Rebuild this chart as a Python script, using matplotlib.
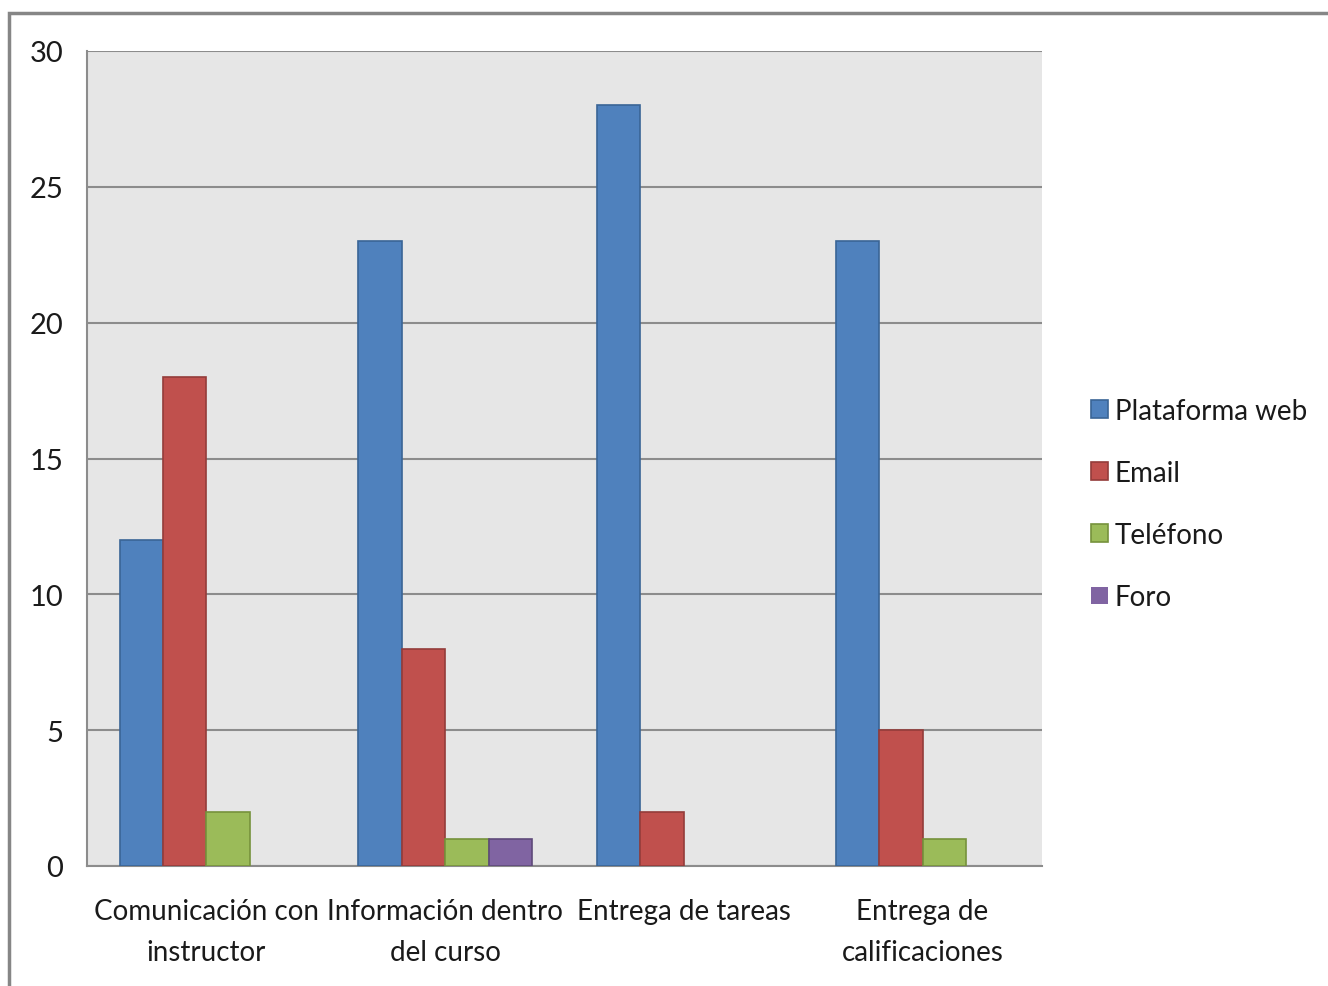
import matplotlib.pyplot as plt
import numpy as np
from matplotlib.patches import Rectangle

categories = ['Comunicación con\ninstructor', 'Información dentro\ndel curso',
              'Entrega de tareas', 'Entrega de\ncalificaciones']
series = ['Plataforma web', 'Email', 'Teléfono', 'Foro']
plataforma_web = [12, 23, 28, 23]
email = [18, 8, 2, 5]
telefono = [2, 1, 0, 1]
foro = [0, 1, 0, 0]

values = [plataforma_web, email, telefono, foro]
colors = ['#4F81BD', '#C0504D', '#9BBB59', '#8064A2']
edges = ['#3A6596', '#943C3A', '#76923C', '#5F4A7A']

plt.rcParams['font.family'] = ['Lato', 'DejaVu Sans']

fig = plt.figure(figsize=(13.28, 9.87), dpi=100)
ax = fig.add_axes([87/1328, 1 - 867/987, (1042-87)/1328, (867-52)/987])

# outer chart border (top and left visible)
fig.patches.append(Rectangle((9/1328, -0.05), 1.2, 1 - 14/987 + 0.05,
                             transform=fig.transFigure, fill=False,
                             edgecolor='#868686', linewidth=2.5, clip_on=False))

ax.set_facecolor('#E6E6E6')
x = np.arange(len(categories))
w = 1 / 5.5
for i, (vals, c, ec, name) in enumerate(zip(values, colors, edges, series)):
    lw = [1.2 if v > 0 else 0 for v in vals]
    ax.bar(x - 1.5*w + i*w, vals, width=w, color=c, edgecolor=ec,
           linewidth=lw, label=name, zorder=3)

ax.set_xlim(-0.5, 3.5)
ax.set_ylim(0, 30)
ax.set_yticks(range(0, 31, 5))
ax.yaxis.grid(True, color='#8C8C8C', linewidth=1.5, zorder=0)
ax.set_axisbelow(True)
ax.set_xticks(x)
ax.set_xticklabels(categories, fontsize=20, color='#1a1a1a', linespacing=1.7)
ax.tick_params(axis='y', length=0, pad=17, labelsize=21, labelcolor='#1a1a1a')
ax.tick_params(axis='x', length=0, pad=23)
for side in ['top', 'right']:
    ax.spines[side].set_visible(False)
ax.spines['left'].set_color('#8C8C8C')
ax.spines['left'].set_linewidth(1.5)
ax.spines['bottom'].set_color('#8C8C8C')
ax.spines['bottom'].set_linewidth(1.5)

leg = fig.legend(loc='center left', bbox_to_anchor=(1066/1328, 1 - 505/987),
                 frameon=False, fontsize=20, handlelength=0.6, handleheight=0.6,
                 handletextpad=0.25, labelspacing=1.3)
for t in leg.get_texts():
    t.set_color('#1a1a1a')

fig.savefig('out.png', dpi=100)
